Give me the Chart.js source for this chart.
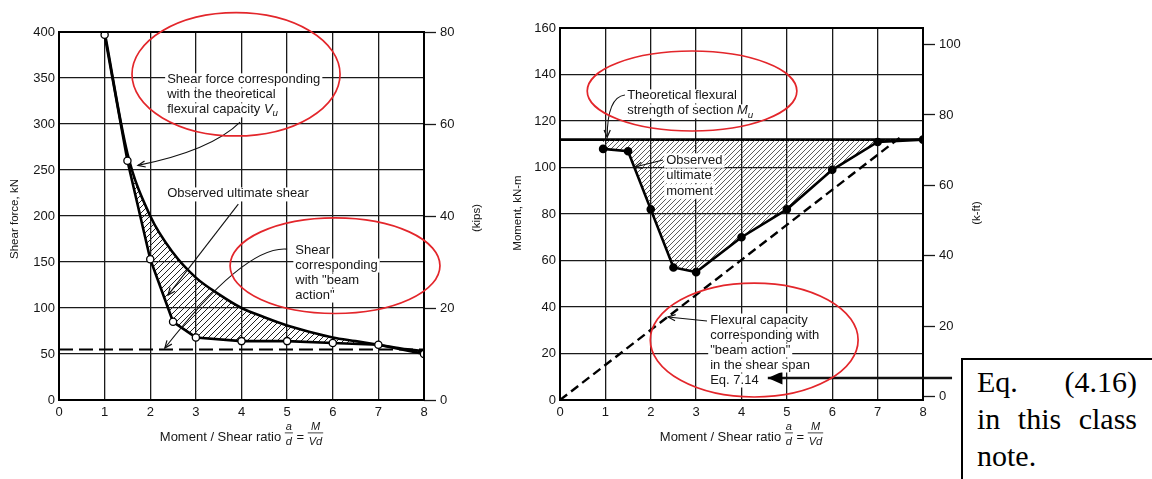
<!DOCTYPE html>
<html><head><meta charset="utf-8">
<script src="https://cdn.jsdelivr.net/npm/chart.js@4.4.1/dist/chart.umd.min.js"></script>
<style>
html,body{margin:0;padding:0;background:#fff;width:1152px;height:479px;overflow:hidden;}
#left{position:absolute;left:0;top:0;}
#right{position:absolute;left:505px;top:0;}
#eqbox{position:absolute;left:961px;top:358px;width:220px;height:150px;border:2px solid #000;box-sizing:border-box;padding:3px 0 0 14px;font-family:"Liberation Serif","Times New Roman",serif;font-size:30px;line-height:37px;color:#000;background:#fff;}
#eqbox div{width:160px;white-space:nowrap;}
#eqbox .j{text-align:justify;text-align-last:justify;white-space:normal;}
</style></head>
<body>
<canvas id="left" width="505" height="479"></canvas>
<canvas id="right" width="647" height="479"></canvas>
<div id="eqbox"><div class="j">Eq. (4.16)</div><div class="j">in this class</div><div>note.</div></div>
<script>
// ---------------- data ----------------
const xTicks = [0,1,2,3,4,5,6,7,8];
const shearTicks = [0,50,100,150,200,250,300,350,400];
const kipsTicks = [0,20,40,60,80];
const momentTicks = [0,20,40,60,80,100,120,140,160];
const kftTicks = [0,20,40,60,80,100];

const observedShearRatio = [1,1.5,2,2.5,3,4,5,6,7,8];
const observedShear = [397,260,153,85,68,64,64,62,60,50];
const flexuralShearRatio = [1,1.5,2,2.5,3,3.5,4,4.5,5,5.5,6,6.5,7,7.5,8];
const flexuralShear = [400,268,200,160,133,115,100,90,81,74,68,64,60,56,53];
const beamShearRatio = [0,8];
const beamShear = [55,55];

const observedMomentRatio = [0.95,1.5,2,2.5,3,4,5,6,7,8];
const observedMoment = [108,107,82,57,55,70,82,99,111,112];
const flexuralMomentRatio = [0,8];
const flexuralMoment = [112,112];
const beamMomentRatio = [0,7.5];
const beamMoment = [0,113];

// ---------------- helpers ----------------
const FONT = '"Liberation Sans", Arial, sans-serif';
Chart.defaults.font.family = FONT;
function fnt(size, italic){ return (italic?'italic ':'')+size+'px '+FONT; }
function pts(xs, ys){ return xs.map((x,i)=>({x:x, y:ys[i]})); }
function fixedTicks(arr){ return function(scale){ scale.ticks = arr.map(v=>({value:v})); }; }
function hatch(canvasId, sp, lw, color){
  const c=document.createElement('canvas'); c.width=sp; c.height=sp;
  const g=c.getContext('2d'); g.strokeStyle=color; g.lineWidth=lw; g.lineCap='square';
  g.beginPath(); g.moveTo(0,sp); g.lineTo(sp,0);
  g.moveTo(-sp/2,sp/2); g.lineTo(sp/2,-sp/2);
  g.moveTo(sp/2,sp*1.5); g.lineTo(sp*1.5,sp/2); g.stroke();
  return document.getElementById(canvasId).getContext('2d').createPattern(c,'repeat');
}
function px(chart,x,y,yid){ return [chart.scales.x.getPixelForValue(x), chart.scales[yid||'y'].getPixelForValue(y)]; }
function norm(s){ return typeof s==='string'?[s,'']:s; }
function toSegs(l){ return typeof l==='string'?[l]:l; }
function richWidth(ctx,segs,size){
  let w=0; segs.forEach(s=>{const [t,st]=norm(s); ctx.font=fnt(st==='sub'?size*0.75:size, st==='i'||st==='sub'); w+=ctx.measureText(t).width;}); return w;
}
function drawRich(ctx,segs,x,y,size){
  let cx=x; segs.forEach(s=>{const [t,st]=norm(s); const sz=st==='sub'?size*0.75:size; ctx.font=fnt(sz, st==='i'||st==='sub'); ctx.fillText(t,cx,y+(st==='sub'?size*0.3:0)); cx+=ctx.measureText(t).width;});
}
function drawNote(ctx,chart,n,yid){
  const p=px(chart,n.x,n.y,yid); const size=13, lh=n.lh||15;
  ctx.textBaseline='middle'; ctx.textAlign='left';
  n.lines.forEach((ln,i)=>{const w=richWidth(ctx,toSegs(ln),size); ctx.fillStyle='#fff'; ctx.fillRect(p[0]-2,p[1]+i*lh-lh/2+1,w+4,lh-1);});
  ctx.fillStyle='#161616';
  n.lines.forEach((ln,i)=>drawRich(ctx,toSegs(ln),p[0],p[1]+i*lh,size));
}
function drawArrow(ctx,chart,a,yid){
  const p0=px(chart,a.from[0],a.from[1],yid), p1=px(chart,a.to[0],a.to[1],yid);
  const c=a.via?px(chart,a.via[0],a.via[1],yid):[(p0[0]+p1[0])/2,(p0[1]+p1[1])/2];
  ctx.strokeStyle='#111'; ctx.fillStyle='#000'; ctx.lineWidth=a.width||1.1;
  ctx.beginPath(); ctx.moveTo(p0[0],p0[1]); ctx.quadraticCurveTo(c[0],c[1],p1[0],p1[1]); ctx.stroke();
  const ang=Math.atan2(p1[1]-c[1],p1[0]-c[0]); const L=a.head||8, h=a.filled?0.42:0.4;
  const q1=[p1[0]-L*Math.cos(ang-h),p1[1]-L*Math.sin(ang-h)], q2=[p1[0]-L*Math.cos(ang+h),p1[1]-L*Math.sin(ang+h)];
  ctx.beginPath(); ctx.moveTo(q1[0],q1[1]); ctx.lineTo(p1[0],p1[1]); ctx.lineTo(q2[0],q2[1]);
  if(a.filled){ctx.closePath(); ctx.fill();} else {ctx.lineWidth=1.2; ctx.stroke();}
}
function drawEllipse(ctx,chart,e,yid){
  const c=px(chart,e.x,e.y,yid);
  const rx=Math.abs(chart.scales.x.getPixelForValue(e.x+e.rx)-c[0]);
  const ry=Math.abs(chart.scales[yid||'y'].getPixelForValue(e.y+e.ry)-c[1]);
  ctx.strokeStyle='#e3262b'; ctx.lineWidth=1.7; ctx.beginPath(); ctx.ellipse(c[0],c[1],rx,ry,0,0,Math.PI*2); ctx.stroke();
}
function rotText(ctx,t,x,y,size){
  ctx.save(); ctx.translate(x,y); ctx.rotate(-Math.PI/2); ctx.font=fnt(size); ctx.textAlign='center'; ctx.textBaseline='middle'; ctx.fillStyle='#161616'; ctx.fillText(t,0,0); ctx.restore();
}
function drawXTitle(ctx,chart){
  const size=13, fs=11, base=441;
  const parts=[['t','Moment / Shear ratio '],['f','a','d'],['t',' = '],['f','M','Vd']];
  let w=0;
  parts.forEach(p=>{ if(p[0]==='t'){ctx.font=fnt(size); w+=ctx.measureText(p[1]).width;} else {ctx.font=fnt(fs,true); w+=Math.max(ctx.measureText(p[1]).width,ctx.measureText(p[2]).width)+2;} });
  const ca=chart.chartArea; let x=(ca.left+ca.right)/2-w/2;
  ctx.fillStyle='#161616'; ctx.textBaseline='alphabetic'; ctx.textAlign='left';
  parts.forEach(p=>{
    if(p[0]==='t'){ctx.font=fnt(size); ctx.fillText(p[1],x,base); x+=ctx.measureText(p[1]).width;}
    else { ctx.font=fnt(fs,true); const wn=ctx.measureText(p[1]).width, wd=ctx.measureText(p[2]).width, fw=Math.max(wn,wd)+2;
      ctx.fillText(p[1],x+(fw-wn)/2,base-11); ctx.fillText(p[2],x+(fw-wd)/2,base+4); ctx.fillRect(x,base-8.5,fw,0.8); x+=fw; }
  });
}
function frame(ctx,chart){
  const ca=chart.chartArea; ctx.strokeStyle='#000'; ctx.lineWidth=2;
  ctx.strokeRect(ca.left,ca.top,ca.right-ca.left,ca.bottom-ca.top);
}
function makePlugin(cfg){
  return { id:'notes'+cfg.name, afterDraw(chart){
    const ctx=chart.ctx; ctx.save();
    frame(ctx,chart);
    cfg.arrows.forEach(a=>drawArrow(ctx,chart,a,'y'));
    cfg.notes.forEach(n=>drawNote(ctx,chart,n,'y'));
    cfg.ellipses.forEach(e=>drawEllipse(ctx,chart,e,'y'));
    cfg.titles.forEach(t=>rotText(ctx,t.text,t.x,t.y,11.5));
    drawXTitle(ctx,chart);
    ctx.restore();
  }};
}
const tickFont={family:FONT,size:13};
function axisX(){
  return {type:'linear',min:0,max:8,afterBuildTicks:fixedTicks(xTicks),afterFit:s=>{s.height=79;},
    grid:{color:'#1a1a1a',lineWidth:1.3,drawTicks:false},border:{display:false},
    ticks:{padding:5,color:'#161616',font:tickFont,maxRotation:0,autoSkip:false}};
}
function axisY(min,max,ticks,w){
  return {type:'linear',min:min,max:max,afterBuildTicks:fixedTicks(ticks),afterFit:s=>{s.width=w;},
    grid:{color:'#1a1a1a',lineWidth:1.3,drawTicks:false},border:{display:false},
    ticks:{padding:4,color:'#161616',font:tickFont}};
}
function axisY2(min,max,ticks,w){
  return {type:'linear',position:'right',min:min,max:max,afterBuildTicks:fixedTicks(ticks),afterFit:s=>{s.width=w;},
    grid:{drawOnChartArea:false,drawTicks:true,tickLength:12,tickColor:'#1a1a1a',tickWidth:1.3},border:{display:false},
    ticks:{padding:4,color:'#161616',font:tickFont}};
}

// ---------------- left chart: shear ----------------
new Chart(document.getElementById('left'),{
  type:'line',
  data:{datasets:[
    {label:'Theoretical flexural capacity Vu',data:pts(flexuralShearRatio,flexuralShear),borderColor:'#000',borderWidth:2.6,
     pointRadius:0,cubicInterpolationMode:'monotone',fill:{target:1},backgroundColor:hatch('left',6,1,'#222'),order:1},
    {label:'Observed ultimate shear',data:pts(observedShearRatio,observedShear),borderColor:'#000',borderWidth:2.6,
     pointRadius:3.6,pointBackgroundColor:'#fff',pointBorderColor:'#000',pointBorderWidth:1.3,tension:0,fill:false,order:0},
    {label:'Beam action',data:pts(beamShearRatio,beamShear),borderColor:'#000',borderWidth:2,borderDash:[14,6],
     pointRadius:0,fill:false,order:2}
  ]},
  options:{responsive:false,animation:false,devicePixelRatio:1,
    layout:{padding:{top:32,left:0,right:0,bottom:0}},
    plugins:{legend:{display:false},tooltip:{enabled:false}},
    scales:{x:axisX(),y:axisY(0,400,shearTicks,59),y2:axisY2(0,80,kipsTicks,81)}},
  plugins:[makePlugin({name:'L',
    notes:[
      {x:2.37,y:348,lines:['Shear force corresponding','with the theoretical',[['flexural capacity '],['V','i'],['u','sub']]]},
      {x:2.37,y:224,lines:['Observed ultimate shear']},
      {x:5.18,y:163,lines:['Shear','corresponding','with "beam','action"']}
    ],
    arrows:[
      {from:[3.97,302],via:[3.33,271],to:[1.73,255]},
      {from:[3.93,213],to:[2.39,114]},
      {from:[5.0,164],via:[4.08,168],to:[2.32,56.5]}
    ],
    ellipses:[{x:3.88,y:354,rx:2.28,ry:67},{x:6.05,y:146,rx:2.30,ry:52}],
    titles:[{text:'Shear force, kN',x:15,y:219},{text:'(kips)',x:477,y:218}]
  })]
});

// ---------------- right chart: moment ----------------
new Chart(document.getElementById('right'),{
  type:'line',
  data:{datasets:[
    {label:'Theoretical flexural strength Mu',data:pts(flexuralMomentRatio,flexuralMoment),borderColor:'#000',borderWidth:2.6,
     pointRadius:0,fill:false,order:1},
    {label:'Observed ultimate moment',data:pts(observedMomentRatio,observedMoment),borderColor:'#000',borderWidth:2.6,
     pointRadius:3,pointBackgroundColor:'#000',pointBorderColor:'#000',tension:0,fill:{target:0},
     backgroundColor:hatch('right',5,0.8,'#333'),order:0},
    {label:'Beam action',data:pts(beamMomentRatio,beamMoment),borderColor:'#000',borderWidth:2.4,borderDash:[9,5],
     pointRadius:0,fill:false,order:2}
  ]},
  options:{responsive:false,animation:false,devicePixelRatio:1,
    layout:{padding:{top:28,left:0,right:0,bottom:0}},
    plugins:{legend:{display:false},tooltip:{enabled:false}},
    scales:{x:axisX(),y:axisY(0,160,momentTicks,55),y2:axisY2(-1,104.7,kftTicks,229)}},
  plugins:[makePlugin({name:'R',
    notes:[
      {x:1.48,y:130.8,lines:['Theoretical flexural',[['strength of section '],['M','i'],['u','sub']]]},
      {x:2.34,y:103.2,lh:15.5,lines:['Observed','ultimate','moment']},
      {x:3.31,y:34.4,lines:['Flexural capacity','corresponding with','"beam action"','in the shear span','Eq. 7.14']}
    ],
    arrows:[
      {from:[1.43,131.2],via:[1.04,130.3],to:[1.04,113]},
      {from:[2.27,103.2],to:[1.65,100.2]},
      {from:[3.24,34],to:[2.38,35.7]},
      {from:[8.64,9.5],to:[4.58,9.5],filled:true,width:2.5,head:16}
    ],
    ellipses:[{x:2.91,y:132.9,rx:2.31,ry:17.2},{x:4.28,y:25.8,rx:2.29,ry:24.5}],
    titles:[{text:'Moment, kN-m',x:13,y:213},{text:'(k-ft)',x:472,y:213}]
  })]
});
</script>
</body></html>
